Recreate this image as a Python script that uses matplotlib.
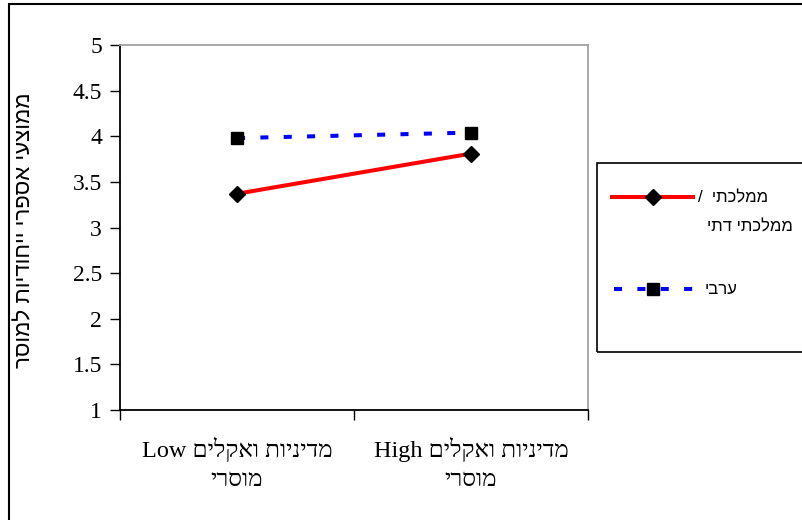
import matplotlib.pyplot as plt
from matplotlib.patches import Rectangle
from matplotlib.lines import Line2D

# Hebrew strings are stored in visual (left-to-right) order, since matplotlib has no bidi
categories = ["Low םילקאו תוינידמ\nירסומ", "High םילקאו תוינידמ\nירסומ"]
state_values = [3.37, 3.81]
arab_values = [3.98, 4.04]
state_label = ["/  יתכלממ", "יתד יתכלממ"]
arab_label = "יברע"
y_label = "רסומל תוידוחיי ירפסא יעצוממ"
y_ticks = [1, 1.5, 2, 2.5, 3, 3.5, 4, 4.5, 5]

serif = ['Liberation Serif', 'DejaVu Sans']
sans = ['Liberation Sans', 'DejaVu Sans']
dash = (0, (2.0, 3.8))

W, H = 802, 520
fig = plt.figure(figsize=(W / 100, H / 100), dpi=100)
ax = fig.add_axes([120 / W, 1 - 410 / H, 468 / W, 365 / H])

x = [0.5, 1.5]
ax.plot(x, state_values, color='#ff0000', lw=2.9, marker='D', ms=8,
        mfc='black', mec='black', zorder=3)
ax.plot(x, arab_values, color='#0000ff', lw=2.9, ls=dash, marker='s', ms=8,
        mfc='black', mec='black', zorder=3)

ax.set_xlim(0, 2)
ax.set_ylim(1, 5)
ax.set_yticks(y_ticks)
ax.set_yticklabels([f"{v:g}" for v in y_ticks], family=serif, fontsize=17)
ax.set_xticks([0, 1, 2])
ax.set_xticklabels([])
ax.tick_params(axis='both', direction='out', length=7, width=1, color='black')
ax.tick_params(axis='y', pad=6)

for i, c in enumerate(categories):
    ax.text(x[i], -27 / 365, c, transform=ax.get_xaxis_transform(), ha='center', va='top',
            family=serif, fontsize=17.5, linespacing=1.5)

ax.spines['left'].set_color('black')
ax.spines['bottom'].set_color('black')
ax.spines['top'].set_color('#a0a0a0')
ax.spines['right'].set_color('#a0a0a0')
for s in ax.spines.values():
    s.set_linewidth(1.3)

fig.text(25 / W, 1 - 230 / H, y_label, rotation=90, ha='center', va='center',
         family=sans, fontsize=16)

# legend box drawn by hand, partly cut off at the right edge
fig.patches.append(Rectangle((597 / W, 1 - 352 / H), 210 / W, 189 / H, transform=fig.transFigure,
                             fill=False, ec='black', lw=1.2))
fig.lines.append(Line2D([612 / W, 693 / W], [1 - 197 / H] * 2, transform=fig.transFigure,
                        color='#ff0000', lw=2.9))
fig.lines.append(Line2D([653 / W], [1 - 197 / H], transform=fig.transFigure, marker='D',
                        ms=8, color='black', ls='none'))
fig.lines.append(Line2D([614 / W, 698 / W], [1 - 289 / H] * 2, transform=fig.transFigure,
                        color='#0000ff', lw=2.9, ls=dash))
fig.lines.append(Line2D([653 / W], [1 - 289 / H], transform=fig.transFigure, marker='s',
                        ms=8, color='black', ls='none'))
fig.text(768 / W, 1 - 198 / H, state_label[0], ha='right', va='center', family=sans, fontsize=12)
fig.text(793 / W, 1 - 227 / H, state_label[1], ha='right', va='center', family=sans, fontsize=12)
fig.text(738 / W, 1 - 289 / H, arab_label, ha='right', va='center', family=sans, fontsize=12)

# outer chart frame
fig.patches.append(Rectangle((9 / W, -0.1), 1.2, 1 - 4 / H + 0.1, transform=fig.transFigure,
                             fill=False, ec='black', lw=1.5))

fig.savefig('out.png', dpi=100)
